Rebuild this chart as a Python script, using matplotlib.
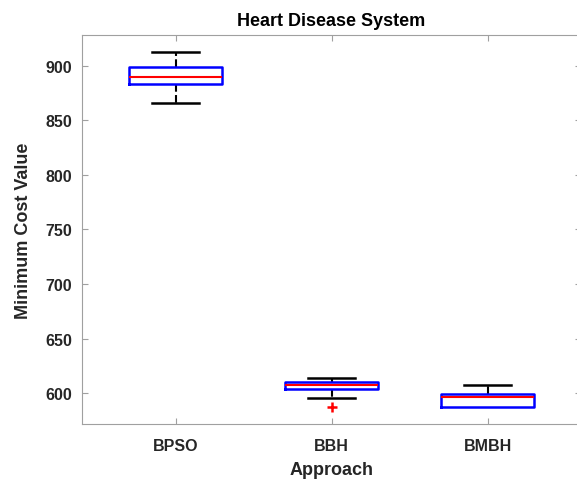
import matplotlib.pyplot as plt

approaches = ["BPSO", "BBH", "BMBH"]
whis_hi = [913, 614, 607]
q3 = [899, 610, 599]
medians = [890, 607, 596.5]
q1 = [883.5, 604, 587]
whis_lo = [866, 595, 587]
outliers = [[], [587], []]

plt.rcParams['font.family'] = ['Liberation Sans', 'DejaVu Sans']
plt.rcParams['font.weight'] = 'bold'

fig = plt.figure(figsize=(5.77, 4.81), dpi=100)
ax = fig.add_axes([0.1421, 0.1164, 0.865, 0.8088])

stats = []
for i in range(len(approaches)):
    stats.append({
        'label': approaches[i], 'med': medians[i], 'q1': q1[i], 'q3': q3[i],
        'whislo': whis_lo[i], 'whishi': whis_hi[i], 'fliers': outliers[i],
    })

parts = ax.bxp(stats, positions=[1, 2, 3], widths=0.6, showfliers=True,
               boxprops=dict(color='blue', linewidth=1.8),
               medianprops=dict(color='red', linewidth=1.5),
               whiskerprops=dict(color='black', linestyle='--', linewidth=1.5),
               capprops=dict(color='black', linewidth=1.8),
               capwidths=0.3,
               flierprops=dict(marker='+', markeredgecolor='red', markersize=7, markeredgewidth=1.8))
for b in parts['boxes']:
    b.set_zorder(3)
for m in parts['medians']:
    m.set_zorder(4)
# hide the lower whisker/cap when it sits on the box edge
for i in range(len(approaches)):
    if whis_lo[i] >= q1[i]:
        parts['caps'][2 * i].set_visible(False)
        parts['whiskers'][2 * i].set_visible(False)

ax.set_xlim(0.4, 3.6)
ax.set_ylim(571.6, 928.4)
ax.set_yticks([600, 650, 700, 750, 800, 850, 900])
ax.set_xticks([1, 2, 3])
ax.set_xticklabels(approaches)

for s in ax.spines.values():
    s.set_color('#a0a0a0')
ax.tick_params(direction='in', top=True, right=True, color='#a0a0a0',
               labelcolor='#262626', labelsize=11.5, length=4)
ax.tick_params(axis='x', pad=10)
ax.tick_params(axis='y', pad=7)
for lbl in ax.get_xticklabels() + ax.get_yticklabels():
    lbl.set_fontweight('bold')

ax.set_title("Heart Disease System", fontsize=13, fontweight='bold', pad=7)
ax.set_xlabel("Approach", fontsize=13, fontweight='bold', color='#262626', labelpad=6)
ax.set_ylabel("Minimum Cost Value", fontsize=13, fontweight='bold', color='#262626', labelpad=10)

fig.savefig("out.png", dpi=100)
